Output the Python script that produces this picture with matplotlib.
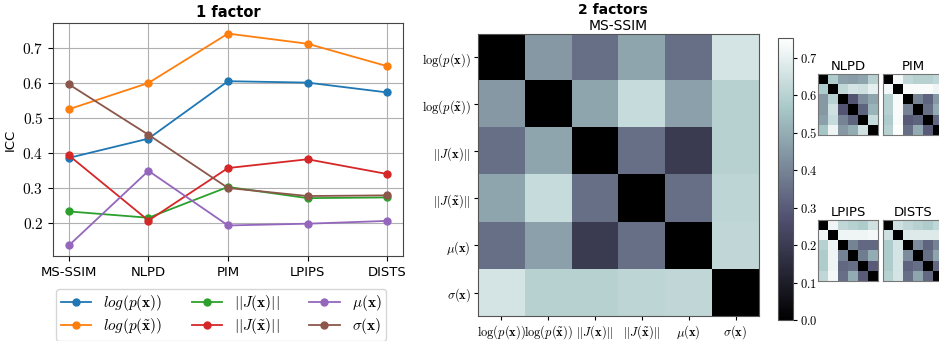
import numpy as np
import matplotlib
matplotlib.use("Agg")
import matplotlib.pyplot as plt
from matplotlib.ticker import FuncFormatter

plt.rcParams["mathtext.fontset"] = "cm"
plt.rcParams["font.family"] = "DejaVu Sans"

# datos
metrics = ["MS-SSIM", "NLPD", "PIM", "LPIPS", "DISTS"]
legend_labels = [r"$log(p(\mathbf{x}))$", r"$log(p(\tilde{\mathbf{x}}))$",
                 r"$||J(\mathbf{x})||$", r"$||J(\tilde{\mathbf{x}})||$",
                 r"$\mu(\mathbf{x})$", r"$\sigma(\mathbf{x})$"]
log_px = [0.386, 0.441, 0.605, 0.601, 0.573]
log_pxt = [0.525, 0.600, 0.741, 0.712, 0.648]
jac_x = [0.233, 0.215, 0.303, 0.271, 0.273]
jac_xt = [0.393, 0.207, 0.357, 0.382, 0.340]
mu_x = [0.136, 0.349, 0.193, 0.198, 0.206]
sigma_x = [0.596, 0.452, 0.300, 0.277, 0.279]
series = [log_px, log_pxt, jac_x, jac_xt, mu_x, sigma_x]
yticks = [0.2, 0.3, 0.4, 0.5, 0.6, 0.7]

factor_labels = [r"$\log(p(\mathbf{x}))$", r"$\log(p(\tilde{\mathbf{x}}))$",
                 r"$||J(\mathbf{x})||$", r"$||J(\tilde{\mathbf{x}})||$",
                 r"$\mu(\mathbf{x})$", r"$\sigma(\mathbf{x})$"]

icc_msssim = [[0.00, 0.45, 0.35, 0.48, 0.35, 0.66],
              [0.45, 0.00, 0.48, 0.63, 0.47, 0.60],
              [0.35, 0.48, 0.00, 0.35, 0.20, 0.60],
              [0.48, 0.63, 0.35, 0.00, 0.35, 0.61],
              [0.35, 0.47, 0.20, 0.35, 0.00, 0.62],
              [0.66, 0.60, 0.60, 0.61, 0.62, 0.00]]
icc_nlpd = [[0.00, 0.58, 0.47, 0.46, 0.48, 0.60],
            [0.58, 0.00, 0.62, 0.66, 0.65, 0.70],
            [0.45, 0.60, 0.00, 0.28, 0.42, 0.48],
            [0.45, 0.65, 0.28, 0.00, 0.32, 0.52],
            [0.47, 0.63, 0.40, 0.32, 0.00, 0.63],
            [0.56, 0.72, 0.45, 0.50, 0.65, 0.00]]
icc_pim = [[0.00, 0.73, 0.62, 0.60, 0.60, 0.62],
           [0.73, 0.00, 0.74, 0.74, 0.74, 0.72],
           [0.60, 0.74, 0.00, 0.40, 0.32, 0.45],
           [0.60, 0.74, 0.40, 0.00, 0.35, 0.50],
           [0.58, 0.74, 0.30, 0.32, 0.00, 0.33],
           [0.60, 0.75, 0.35, 0.50, 0.30, 0.00]]
icc_lpips = [[0.00, 0.72, 0.62, 0.60, 0.58, 0.65],
             [0.72, 0.00, 0.72, 0.72, 0.72, 0.73],
             [0.60, 0.72, 0.00, 0.40, 0.33, 0.33],
             [0.58, 0.72, 0.40, 0.00, 0.38, 0.50],
             [0.58, 0.72, 0.33, 0.35, 0.00, 0.30],
             [0.62, 0.73, 0.35, 0.50, 0.30, 0.00]]
icc_dists = [[0.00, 0.65, 0.62, 0.60, 0.58, 0.62],
             [0.65, 0.00, 0.68, 0.68, 0.68, 0.68],
             [0.58, 0.66, 0.00, 0.42, 0.32, 0.40],
             [0.58, 0.66, 0.42, 0.00, 0.35, 0.48],
             [0.58, 0.66, 0.32, 0.35, 0.00, 0.33],
             [0.60, 0.66, 0.35, 0.48, 0.33, 0.00]]
vmax = 0.753

W, H = 939, 341
fig = plt.figure(figsize=(W / 100, H / 100), dpi=100)

def px_axes(x0, y0, x1, y1):
    return fig.add_axes([x0 / W, 1 - y1 / H, (x1 - x0) / W, (y1 - y0) / H])

fmt = FuncFormatter(lambda v, p: f"${v:.1f}$")

# 1 factor
ax = px_axes(53, 23, 403, 256)
colors = ["#1f77b4", "#ff7f0e", "#2ca02c", "#d62728", "#9467bd", "#8c564b"]
for vals, c, lab in zip(series, colors, legend_labels):
    ax.plot(metrics, vals, "o-", color=c, label=lab, markersize=5, linewidth=1.3)
ax.set_title("1 factor", fontsize=10.5, fontweight="bold", pad=4)
ax.set_ylabel("ICC", fontsize=9.5)
ax.set_yticks(yticks)
ax.yaxis.set_major_formatter(fmt)
ax.tick_params(axis="y", labelsize=11)
ax.tick_params(axis="x", labelsize=9.5)
ax.grid(True, color="#b0b0b0", linewidth=0.8)
for s in ax.spines.values():
    s.set_color("#444444")
fig.legend(*ax.get_legend_handles_labels(), ncol=3, loc="upper center",
           bbox_to_anchor=(221 / W, 1 - 281 / H), fontsize=11,
           columnspacing=1.9, handlelength=2.0, handletextpad=0.8,
           borderpad=0.3, labelspacing=0.2)

# 2 factors
fig.text(613 / W, 1 - 10 / H, "2 factors", ha="center", va="center",
         fontsize=10, fontweight="bold")
axm = px_axes(478, 34, 759, 316)
im = axm.imshow(np.array(icc_msssim), cmap="bone", vmin=0, vmax=vmax, aspect="auto")
axm.set_title("MS-SSIM", fontsize=10, pad=3)
axm.set_xticks(range(6))
axm.set_xticklabels(factor_labels, fontsize=9)
axm.set_yticks(range(6))
axm.set_yticklabels(factor_labels, fontsize=9)
axm.tick_params(length=3, pad=2)
for s in axm.spines.values():
    s.set_color("#555555")

cax = px_axes(778, 38, 793, 320)
cb = fig.colorbar(im, cax=cax)
cb.set_ticks([0.0, 0.1, 0.2, 0.3, 0.4, 0.5, 0.6, 0.7])
cb.ax.yaxis.set_major_formatter(fmt)
cb.ax.tick_params(labelsize=9, length=3, pad=2)
cb.outline.set_edgecolor("#555555")

small = [("NLPD", icc_nlpd, 818, 74), ("PIM", icc_pim, 883, 74),
         ("LPIPS", icc_lpips, 818, 220), ("DISTS", icc_dists, 883, 220)]
for name, mat, x0, y0 in small:
    a = px_axes(x0, y0, x0 + 60, y0 + 61)
    a.imshow(np.array(mat), cmap="bone", vmin=0, vmax=vmax, aspect="auto")
    a.set_title(name, fontsize=9.5, pad=3)
    a.set_xticks([])
    a.set_yticks([])
    for s in a.spines.values():
        s.set_color("#777777")

fig.savefig("out.png", dpi=100)
